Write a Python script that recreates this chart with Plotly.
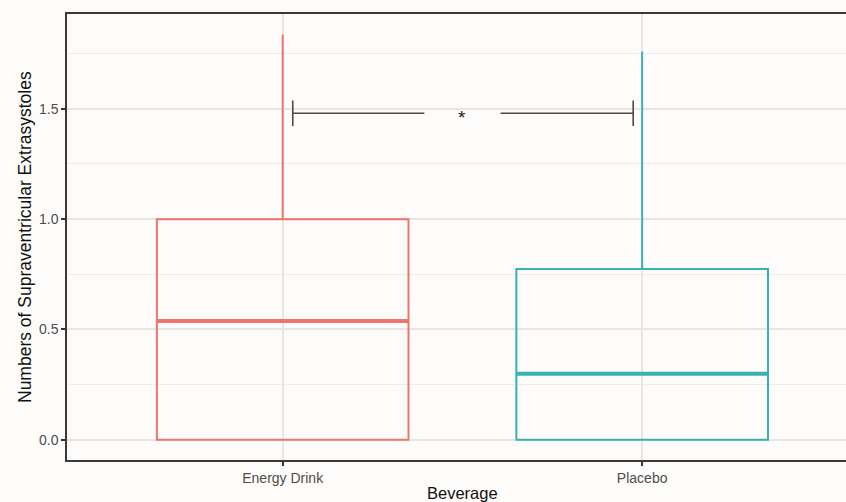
import plotly.graph_objects as go

# ---- data ----
categories = ["Energy Drink", "Placebo"]
q1 = [0.0, 0.0]
medians = [0.538, 0.299]
q3 = [1.0, 0.774]
lower_whisker = [0.0, 0.0]
upper_whisker = [1.837, 1.76]
colors = ["#EF746B", "#38B3AF"]
y_ticks = [0.0, 0.5, 1.0, 1.5]
y_minor = [0.25, 0.75, 1.25, 1.75]
sig_label = "*"
sig_y = 1.48

xpos = [1, 2]
box_w = 0.7
font = "Liberation Sans, Arial, sans-serif"

fig = go.Figure()
for i, cat in enumerate(categories):
    fig.add_trace(go.Box(
        x=[xpos[i]], q1=[q1[i]], median=[medians[i]], q3=[q3[i]],
        lowerfence=[lower_whisker[i]], upperfence=[upper_whisker[i]],
        width=box_w, whiskerwidth=0, fillcolor="rgba(0,0,0,0)",
        line=dict(color=colors[i], width=2), name=cat, showlegend=False,
        hoverinfo="skip"))
    # thicker median line (ggplot fatten)
    fig.add_trace(go.Scatter(
        x=[xpos[i] - box_w / 2, xpos[i] + box_w / 2], y=[medians[i], medians[i]],
        mode="lines", line=dict(color=colors[i], width=4), showlegend=False,
        hoverinfo="skip"))

# significance bracket
bx0, bx1 = 1.028, 1.975
gap0, gap1 = 1.394, 1.606
tick_h = 0.058
bc = "#4a4a4a"
for (a, b) in [(bx0, gap0), (gap1, bx1)]:
    fig.add_shape(type="line", x0=a, x1=b, y0=sig_y, y1=sig_y, xref="x", yref="y",
                  line=dict(color=bc, width=1.6))
for a in [bx0, bx1]:
    fig.add_shape(type="line", x0=a, x1=a, y0=sig_y - tick_h, y1=sig_y + tick_h,
                  xref="x", yref="y", line=dict(color=bc, width=1.6))
fig.add_annotation(x=(gap0 + gap1) / 2, y=sig_y, text=sig_label, showarrow=False,
                   xref="x", yref="y", font=dict(family=font, size=19, color="#222"),
                   yshift=-4)

# axis titles
fig.add_annotation(x=1.5, y=0, xref="x", yref="paper", yshift=-22, text="Beverage",
                   showarrow=False, yanchor="top", xanchor="center",
                   font=dict(family=font, size=16.5, color="#111"))
fig.add_annotation(x=0, y=0.5, xref="paper", yref="paper", xshift=-42,
                   xanchor="center", yanchor="middle",
                   text="Numbers of Supraventricular Extrasystoles", textangle=-90,
                   showarrow=False, font=dict(family=font, size=17.5, color="#111"))

fig.update_layout(
    width=846, height=502,
    margin=dict(l=67, r=0, t=14, b=42),
    paper_bgcolor="#FDFCFA", plot_bgcolor="#FDFCFA",
    font=dict(family=font),
    xaxis=dict(range=[0.4, 2.567], tickvals=xpos, ticktext=categories,
               showgrid=True, gridcolor="#E8E6E4", gridwidth=1.5,
               showline=True, linecolor="#3a3a3a", linewidth=1.5, mirror=True,
               ticks="outside", ticklen=4, tickcolor="#333", tickwidth=1.5,
               tickfont=dict(size=14, color="#4D4D4D"), zeroline=False),
    yaxis=dict(range=[-0.092, 1.93], tickvals=y_ticks, tickformat=".1f",
               showgrid=True, gridcolor="#E8E6E4", gridwidth=1.5,
               minor=dict(tickvals=y_minor, showgrid=True, gridcolor="#EFEDEB",
                          gridwidth=1),
               showline=True, linecolor="#3a3a3a", linewidth=1.5, mirror=False,
               ticks="outside", ticklen=4, tickcolor="#333", tickwidth=1.5,
               tickfont=dict(size=14, color="#4D4D4D"), zeroline=False),
)

fig.write_html("out.html")
